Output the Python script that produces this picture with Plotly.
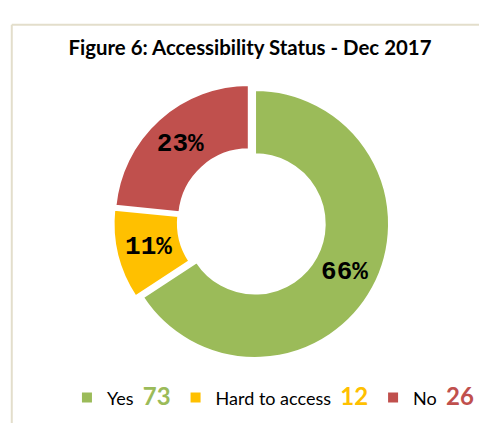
import plotly.graph_objects as go

# Accessibility status counts, December 2017
categories = ["Yes", "Hard to access", "No"]
counts = [73, 12, 26]
colors = ["#9BBB59", "#FFC000", "#C0504D"]

# Legend entries carry the category name followed by its count in the slice colour
legend_names = [
    f"{c}&nbsp;&nbsp;<b><span style='color:{col};font-size:24px'>{v}</span></b>"
    for c, v, col in zip(categories, counts, colors)
]

fig = go.Figure()
fig.add_trace(go.Pie(
    labels=legend_names,
    values=counts,
    marker=dict(colors=colors, line=dict(color="white", width=2)),
    hole=0.52,
    sort=False,
    direction="clockwise",
    rotation=0,
    pull=[0.03, 0.03, 0.03],
    texttemplate="%{percent:.0%}",
    textposition="inside",
    insidetextorientation="horizontal",
    textfont=dict(family="Liberation Mono", size=26, color="black", weight="bold"),
    hoverinfo="skip",
))

fig.update_layout(
    width=479, height=423,
    paper_bgcolor="white",
    margin=dict(l=37, r=0, t=84, b=63),
    title=dict(
        text="<b>Figure 6: Accessibility Status - Dec 2017</b>",
        x=0.522, xanchor="center", y=0.888, yanchor="middle",
        font=dict(family="Lato", size=20.4, color="black"),
    ),
    showlegend=True,
    legend=dict(
        orientation="h", x=0.55, xanchor="center", y=-0.07, yanchor="top",
        font=dict(family="Lato", size=18, color="black"),
        itemwidth=30,
    ),
    shapes=[
        dict(type="line", xref="paper", yref="paper", x0=-0.0588, x1=1.2, y0=1.215, y1=1.215,
             line=dict(color="#E3DECB", width=2)),
        dict(type="line", xref="paper", yref="paper", x0=-0.0588, x1=-0.0588, y0=-0.3, y1=1.215,
             line=dict(color="#E3DECB", width=2)),
    ],
)

fig.write_html("out.html")
